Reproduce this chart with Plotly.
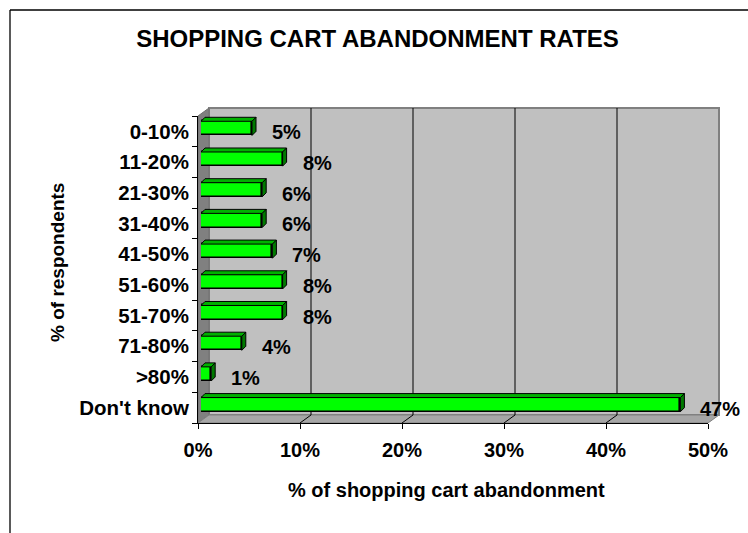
import plotly.graph_objects as go

# ---- data ----
categories = ["0-10%", "11-20%", "21-30%", "31-40%", "41-50%",
              "51-60%", "51-70%", "71-80%", ">80%", "Don't know"]
values = [5, 8, 6, 6, 7, 8, 8, 4, 1, 47]
value_labels = ["5%", "8%", "6%", "6%", "7%", "8%", "8%", "4%", "1%", "47%"]
x_ticks = [0, 10, 20, 30, 40, 50]
x_tick_labels = ["0%", "10%", "20%", "30%", "40%", "50%"]

title = "SHOPPING CART ABANDONMENT RATES"
x_title = "% of shopping cart abandonment"
y_title = "% of respondents"

# ---- layout geometry (pixels) ----
W, H = 748, 533
L, R, T, B = 198, 711, 113, 423          # paper region
PW, PH = R - L, B - T
FRONT_W, FRONT_H = 510, 307               # front plane size
SHIFT = 3                                 # bar plane offset from front plane
DX, DY = 11, 8                            # wall depth
BAR_DEPTH = 4

def px(x):
    return (x - L) / PW

def py(y):
    return (B - y) / PH

FONT = "Liberation Sans, Arial, sans-serif"
n = len(categories)
yr = [n - 0.5, -0.5]
xr = [0, 50]

fig = go.Figure()
fig.add_trace(go.Bar(
    x=values, y=list(range(n)), orientation="h",
    xaxis="x2", yaxis="y2",
    marker=dict(color="#00FF00", line=dict(color="black", width=1.6)),
    width=0.46, hoverinfo="skip", showlegend=False,
))

shapes = []
# outer frame
shapes.append(dict(type="line", xref="paper", yref="paper",
                   x0=px(10), x1=px(760), y0=py(10), y1=py(10),
                   line=dict(color="black", width=1.3), layer="below"))
shapes.append(dict(type="line", xref="paper", yref="paper",
                   x0=px(10), x1=px(10), y0=py(10), y1=py(560),
                   line=dict(color="black", width=1.3), layer="below"))

fx0, fx1 = L, L + FRONT_W
fy0, fy1 = B - FRONT_H, B
# back wall
shapes.append(dict(type="rect", xref="paper", yref="paper",
                   x0=px(fx0 + DX), x1=px(fx1 + DX), y0=py(fy1 - DY), y1=py(fy0 - DY),
                   fillcolor="#C0C0C0", line=dict(color="#808080", width=2), layer="below"))
# side wall
shapes.append(dict(type="path", xref="paper", yref="paper",
                   path=f"M {px(fx0)},{py(fy0)} L {px(fx0+DX)},{py(fy0-DY)} L {px(fx0+DX)},{py(fy1-DY)} L {px(fx0)},{py(fy1)} Z",
                   fillcolor="#808080", line=dict(color="#707070", width=1), layer="below"))
# floor
shapes.append(dict(type="path", xref="paper", yref="paper",
                   path=f"M {px(fx0)},{py(fy1)} L {px(fx0+DX)},{py(fy1-DY)} L {px(fx1+DX)},{py(fy1-DY)} L {px(fx1)},{py(fy1)} Z",
                   fillcolor="#A6A6A6", line=dict(color="#808080", width=1), layer="below"))
# gridlines on back wall and floor
for v in x_ticks[1:-1]:
    shapes.append(dict(type="line", xref="x", yref="paper", xsizemode="pixel", xanchor=v,
                       x0=DX, x1=DX, y0=py(fy1 - DY), y1=py(fy0 - DY),
                       line=dict(color="black", width=1), layer="below"))
    shapes.append(dict(type="line", xref="x", yref="paper", xsizemode="pixel", xanchor=v,
                       x0=0, x1=DX, y0=py(fy1), y1=py(fy1 - DY),
                       line=dict(color="black", width=1), layer="below"))

# 3D faces of bars
ddx = BAR_DEPTH * (xr[1] - xr[0]) / FRONT_W
ddy = BAR_DEPTH * n / FRONT_H
hw = 0.23
for i, v in enumerate(values):
    top = i - hw
    bot = i + hw
    shapes.append(dict(type="path", xref="x2", yref="y2",
                       path=f"M 0,{top} L {v},{top} L {v+ddx},{top-ddy} L {ddx},{top-ddy} Z",
                       fillcolor="#00B000", line=dict(color="black", width=1)))
    shapes.append(dict(type="path", xref="x2", yref="y2",
                       path=f"M {v},{top} L {v},{bot} L {v+ddx},{bot-ddy} L {v+ddx},{top-ddy} Z",
                       fillcolor="#007A00", line=dict(color="black", width=1)))

annotations = []
for i, (v, lab) in enumerate(zip(values, value_labels)):
    annotations.append(dict(xref="x2", yref="y2", x=v, y=i, text=lab,
                            xanchor="left", yanchor="middle", xshift=BAR_DEPTH + 14, yshift=-4,
                            showarrow=False,
                            font=dict(family=FONT, size=20, color="black", weight="bold")))
annotations.append(dict(xref="paper", yref="paper", x=px(446), y=py(490), text=x_title,
                        xanchor="center", yanchor="middle", showarrow=False,
                        font=dict(family=FONT, size=20, color="black", weight="bold")))
annotations.append(dict(xref="paper", yref="paper", x=px(57), y=py(263), text=y_title,
                        textangle=-90, xanchor="center", yanchor="middle", showarrow=False,
                        font=dict(family=FONT, size=19, color="black", weight="bold")))

fig.update_layout(
    width=W, height=H,
    margin=dict(l=L, r=W - R, t=T, b=H - B, pad=0),
    paper_bgcolor="white", plot_bgcolor="rgba(0,0,0,0)",
    title=dict(text=title, x=377.5 / W, xanchor="center", y=1 - 39 / H, yanchor="middle",
               font=dict(family=FONT, size=24, color="black", weight="bold")),
    xaxis=dict(domain=[0, FRONT_W / PW], range=xr, anchor="y",
               tickvals=x_ticks, ticktext=x_tick_labels,
               ticks="outside", ticklen=5, tickcolor="black", tickwidth=1,
               ticklabelstandoff=4,
               showline=True, linecolor="black", linewidth=1,
               showgrid=False, zeroline=False,
               tickfont=dict(family=FONT, size=20, color="black", weight="bold")),
    yaxis=dict(domain=[0, FRONT_H / PH], range=yr, anchor="x",
               tickvals=list(range(n)), ticktext=categories,
               ticks="", showline=True, linecolor="black", linewidth=1,
               ticklabelstandoff=4,
               showgrid=False, zeroline=False,
               minor=dict(ticks="outside", tick0=0.5, dtick=1, ticklen=5,
                          tickcolor="black", tickwidth=1, showgrid=False),
               tickfont=dict(family=FONT, size=20.5, color="black", weight="bold")),
    xaxis2=dict(domain=[SHIFT / PW, 1], range=xr, anchor="y2", visible=False),
    yaxis2=dict(domain=[SHIFT / PH, 1], range=yr, anchor="x2", visible=False),
    shapes=shapes,
    annotations=annotations,
    bargap=0,
)

fig.write_html("out.html", config={"displayModeBar": False},
               post_script="document.body.style.margin='0';document.body.style.overflow='hidden';")
